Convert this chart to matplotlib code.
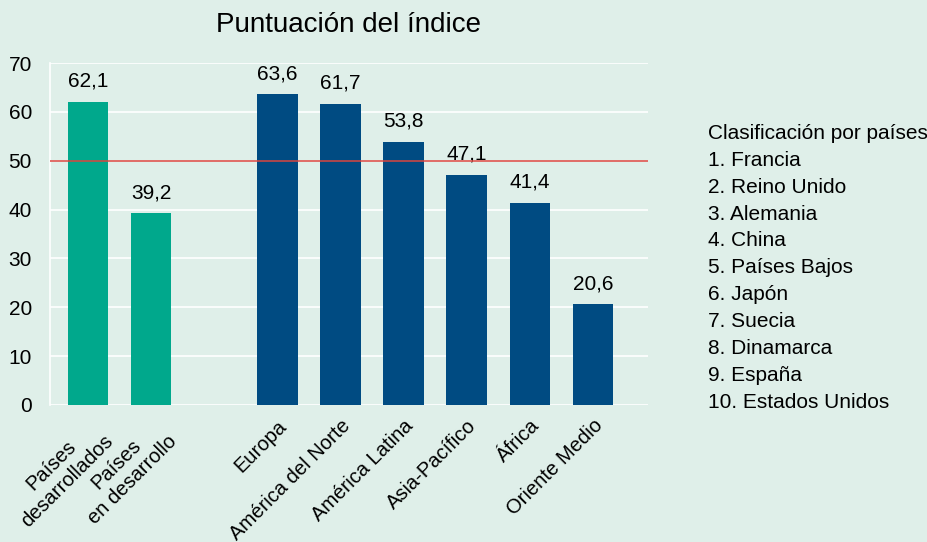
import matplotlib.pyplot as plt

plt.rcParams['font.family'] = ['Liberation Sans', 'DejaVu Sans']

# data
categories = ["Países\ndesarrollados", "Países\nen desarrollo", "Europa", "América del Norte",
              "América Latina", "Asia-Pacífico", "África", "Oriente Medio"]
positions = [0, 1, 3, 4, 5, 6, 7, 8]
scores = [62.1, 39.2, 63.6, 61.7, 53.8, 47.1, 41.4, 20.6]
bar_colors = ['#00a88c', '#00a88c', '#004b82', '#004b82', '#004b82', '#004b82', '#004b82', '#004b82']
threshold = 50
ranking = ["Francia", "Reino Unido", "Alemania", "China", "Países Bajos", "Japón",
           "Suecia", "Dinamarca", "España", "Estados Unidos"]

bg = '#dfefe9'
fig = plt.figure(figsize=(9.28, 5.42), dpi=100, facecolor=bg)
ax = fig.add_axes([50 / 928, 1 - 405 / 542, 598 / 928, 342 / 542])
ax.set_facecolor(bg)

ax.bar(positions, scores, width=0.645, color=bar_colors, zorder=3)
for x, v in zip(positions, scores):
    ax.text(x, v + 2.3, f"{v:.1f}".replace('.', ','), ha='center', va='bottom', fontsize=15)

ax.axhline(threshold, color='#d9453f', linewidth=1.1, zorder=4)

ax.set_ylim(0, 70)
ax.set_xlim(-0.6, 8.87)
ax.set_yticks(range(0, 71, 10))
ax.yaxis.grid(True, color='white', linewidth=1.2, zorder=0)
ax.tick_params(axis='y', length=0, labelsize=15, pad=13)
ax.tick_params(axis='x', length=0, labelsize=14.5, pad=8)
ax.set_xticks(positions)
ax.set_xticklabels(categories, rotation=45, ha='right', va='top', rotation_mode='anchor',
                   multialignment='center')
for s in ['top', 'right', 'bottom']:
    ax.spines[s].set_visible(False)
ax.spines['left'].set_color('white')
ax.spines['left'].set_linewidth(1.2)

ax.set_title("Puntuación del índice", fontsize=20, pad=22)

legend_text = "Clasificación por países\n" + "\n".join(f"{i}. {c}" for i, c in enumerate(ranking, 1))
fig.text(708 / 928, 1 - 124 / 542, legend_text, ha='left', va='top', fontsize=15, linespacing=1.525)

fig.savefig("out.png", dpi=100, facecolor=bg)
